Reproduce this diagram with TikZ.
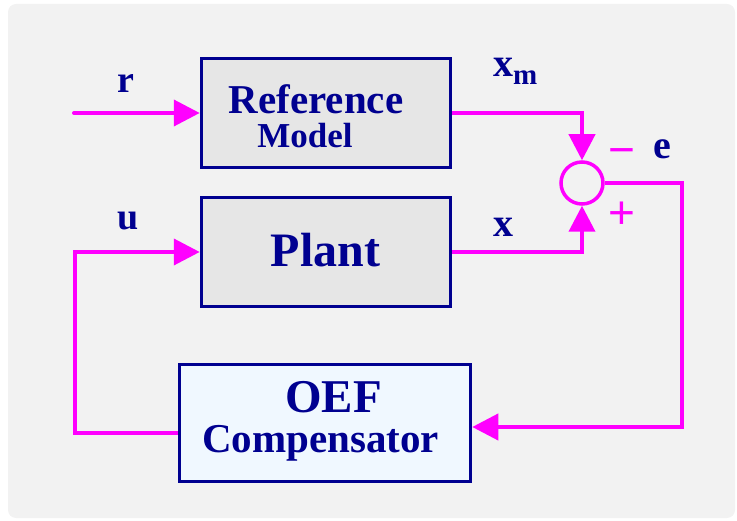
\documentclass[tikz,border=0pt]{standalone}
\usepackage{fontspec}
\setmainfont{Liberation Serif}
\newfontfamily\signfont{Liberation Sans}
\usetikzlibrary{arrows.meta}
\definecolor{navyc}{HTML}{000090}
\definecolor{mag}{HTML}{FF00FF}
\definecolor{boxgray}{HTML}{E6E6E6}
\definecolor{alice}{HTML}{F0F8FF}
\definecolor{bggray}{HTML}{F2F2F2}
\newcommand{\fsz}[1]{\fontsize{#1}{#1}\selectfont\bfseries}
\begin{document}
\begin{tikzpicture}[x=1pt,y=-1pt,
  blockbox/.style={draw=navyc, line width=3.5pt, fill=boxgray, inner sep=0pt,
    minimum width=249pt, minimum height=109pt},
  sig/.style={draw=mag, line width=4pt, -{Triangle[length=26pt,width=26pt]}},
  lbl/.style={text=navyc, inner sep=0pt, anchor=base},
  sign/.style={text=mag, inner sep=0pt, anchor=base, font=\signfont\fontsize{46}{46}\selectfont}]
\useasboundingbox (0,0) rectangle (737,521);
\fill[bggray, rounded corners=8pt] (8,4) rectangle (735,518);

% blocks
\node[blockbox] (ref) at (326,113) {};
\node[lbl, font=\fsz{41}] (refA) at (316,114) {Reference};
\node[lbl, font=\fsz{35}] (refB) at (305,148) {Model};

\node[blockbox] (plant) at (326,252) {};
\node[lbl, font=\fsz{48}] (plantT) at (325.5,267) {Plant};

\node[blockbox, fill=alice, minimum width=291pt, minimum height=117pt] (comp) at (325,423) {};
\node[lbl, font=\fsz{47}] (compA) at (333.5,413) {OEF};
\node[lbl, font=\fsz{41}] (compB) at (320.5,453) {Compensator};

\node[circle, draw=mag, line width=3.5pt, minimum size=42pt, inner sep=0pt] (sum) at (582,183) {};

% labels
\node[lbl, font=\fsz{38}] (lr) at (126,93) {r};
\node[lbl, font=\fsz{38}] (lu) at (128,230) {u};
\node[lbl, font=\fsz{40}, anchor=base west] (lxm) at (493,77) {x\raisebox{-8pt}{\fsz{29}m}};
\node[lbl, font=\fsz{40}] (lx) at (503,237) {x};
\node[lbl, font=\fsz{40}] (le) at (662,159) {e};
\node[sign] (minus) at (622,166) {−};
\node[sign] (plus) at (622,229) {+};

% connectors
\coordinate (rin) at (74,113);
\coordinate (ce) at ([yshift=-4pt]comp.east);
\coordinate (cw) at ([yshift=-10pt]comp.west);
\draw[sig, line cap=round] (rin) -- (ref.west);
\draw[sig] (ref.east) -| (sum.north);
\draw[sig] (plant.east) -| (sum.south);
\draw[sig] (sum.east) -- ++(77,0) |- (ce);
\draw[sig] (cw) -- ++(-103,0) |- (plant.west);
\end{tikzpicture}
\end{document}
